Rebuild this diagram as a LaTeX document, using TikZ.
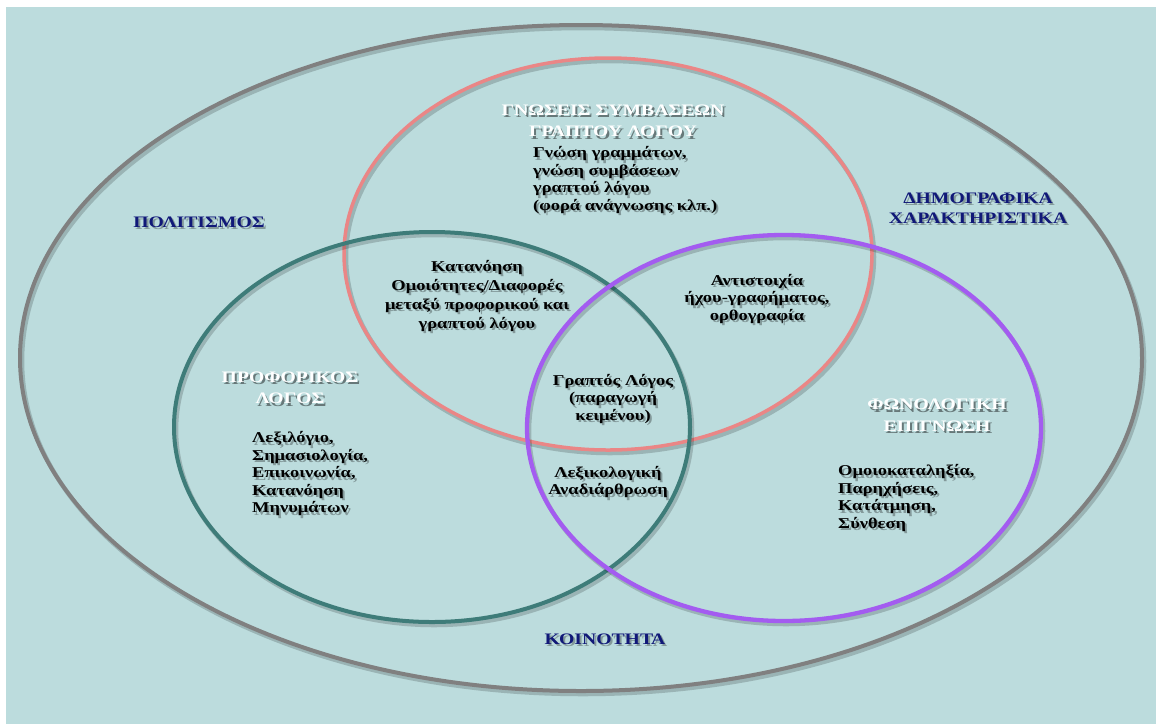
\documentclass[tikz,border=0pt]{standalone}
\usepackage{fontspec}
\setmainfont{Liberation Serif}[FakeStretch=1.23]

\definecolor{bgteal}{RGB}{188,220,221}
\definecolor{ringgray}{RGB}{128,128,128}
\definecolor{ringpink}{RGB}{234,134,134}
\definecolor{ringteal}{RGB}{62,124,121}
\definecolor{ringpurple}{RGB}{163,92,240}
\definecolor{labelblue}{RGB}{16,24,120}

\tikzset{
  ring/.style={line width=3.5pt},
  ringshadow/.style={line width=4.5pt, black, opacity=0.18},
  body/.style={font=\fontsize{15}{17.5}\selectfont\bfseries, text=black, inner sep=0pt},
  heading/.style={font=\fontsize{16}{21.5}\selectfont\bfseries, text=white, inner sep=0pt, align=center},
  outer/.style={font=\fontsize{16}{20}\selectfont\bfseries, text=labelblue, inner sep=0pt, align=center},
  shade/.style={text=black, opacity=0.3},
}

% text with a soft shadow: name, position, style, text
\newcommand\castnode[4]{%
  \node[#3, shade, xshift=2pt, yshift=-2.5pt] at (#2) {#4};
  \node[#3] (#1) at (#2) {#4};}

\begin{document}
\begin{tikzpicture}[x=1pt, y=-1pt]
    \useasboundingbox (0,0) rectangle (1156,724);
    \fill[white] (0,0) rectangle (1156,724);
    \fill[bgteal] (6,7) rectangle (1156,724);

    % rings, back to front
    \draw[ringshadow] (583,361) ellipse [x radius=561, y radius=333];
    \draw[ring, ringgray, line width=4pt] (581,358) ellipse [x radius=561, y radius=333];
    \draw[ringshadow] (610,257) ellipse [x radius=264, y radius=196];
    \draw[ring, ringpink] (608,254) ellipse [x radius=264, y radius=196];
    \draw[ringshadow] (434,430) ellipse [x radius=258, y radius=195];
    \draw[ring, ringteal, line width=4pt] (432,427) ellipse [x radius=258, y radius=195];
    \draw[ringshadow] (786,431) ellipse [x radius=257, y radius=193];
    \draw[ring, ringpurple, line width=4.3pt] (784,428) ellipse [x radius=257, y radius=193];

    % outer labels
    \castnode{culture}{199,222}{outer}{ΠΟΛΙΤΙΣΜΟΣ}
    \castnode{demog}{978,208}{outer}{ΔΗΜΟΓΡΑΦΙΚΑ\\ΧΑΡΑΚΤΗΡΙΣΤΙΚΑ}
    \castnode{community}{605,639}{outer}{ΚΟΙΝΟΤΗΤΑ}

    % written conventions
    \castnode{writtenhead}{613,121}{heading, shade/.append style={opacity=0.45}}{ΓΝΩΣΕΙΣ ΣΥΜΒΑΣΕΩΝ\\ΓΡΑΠΤΟΥ ΛΟΓΟΥ}
    \castnode{writtenbody}{533,180}{body, anchor=west, align=left}{Γνώση γραμμάτων,\\γνώση συμβάσεων\\γραπτού λόγου\\(φορά ανάγνωσης κλπ.)}

    % oral language
    \castnode{oralhead}{290,388}{heading, shade/.append style={opacity=0.45}}{ΠΡΟΦΟΡΙΚΟΣ\\ΛΟΓΟΣ}
    \castnode{oralbody}{252,474}{body, anchor=west, align=left}{Λεξιλόγιο,\\Σημασιολογία,\\Επικοινωνία,\\Κατανόηση\\Μηνυμάτων}

    % phonological awareness
    \castnode{phonhead}{937,415}{heading, shade/.append style={opacity=0.45}}{ΦΩΝΟΛΟΓΙΚΗ\\ΕΠΙΓΝΩΣΗ}
    \castnode{phonbody}{838,498}{body, anchor=west, align=left}{Ομοιοκαταληξία,\\Παρηχήσεις,\\Κατάτμηση,\\Σύνθεση}

    % overlaps
    \castnode{oralwritten}{477,296}{body, align=center, font=\fontsize{15}{19}\selectfont\bfseries}{Κατανόηση\\Ομοιότητες/Διαφορές\\μεταξύ προφορικού και\\γραπτού λόγου}
    \castnode{soundletter}{757,299}{body, align=center}{Αντιστοιχία\\ήχου-γραφήματος,\\ορθογραφία}
    \castnode{writing}{613,399}{body, align=center}{Γραπτός Λόγος\\(παραγωγή\\κειμένου)}
    \castnode{lexical}{608,482}{body, align=center}{Λεξικολογική\\Αναδιάρθρωση}
\end{tikzpicture}
\end{document}
